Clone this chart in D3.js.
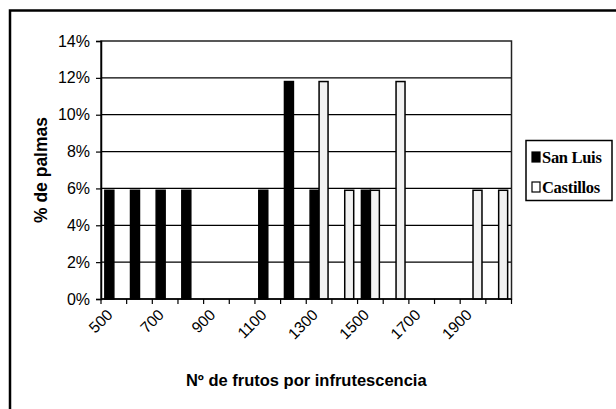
<!DOCTYPE html>
<html>
<head>
<meta charset="utf-8">
<script src="https://cdn.jsdelivr.net/npm/d3@7"></script>
<style>
  html, body { margin: 0; padding: 0; background: #fff; }
  svg { display: block; }
</style>
</head>
<body>
<svg id="chart" width="616" height="409"></svg>
<script>
// ---- data ----
const categories = ["500","600","700","800","900","1000","1100","1200","1300","1400","1500","1600","1700","1800","1900","2000"];
const tickLabels = ["500","700","900","1100","1300","1500","1700","1900"];
const seriesNames = ["San Luis", "Castillos"];
const sanLuis   = [5.9, 5.9, 5.9, 5.9, 0, 0, 5.9, 11.8, 5.9, 0, 5.9, 0, 0, 0, 0, 0];
const castillos = [0, 0, 0, 0, 0, 0, 0, 0, 11.8, 5.9, 5.9, 11.8, 0, 0, 5.9, 5.9];
const yTicks = [0, 2, 4, 6, 8, 10, 12, 14];
const yTitle = "% de palmas";
const xTitle = "Nº de frutos por infrutescencia";

// ---- layout ----
const svg = d3.select("#chart");
const pL = 101, pR = 511.5, pT = 41, pB = 299;
const sans = "'Liberation Sans', Arial, sans-serif";
const serif = "'Liberation Serif', 'Times New Roman', serif";

// outer frame (cut off at right/bottom like the scan)
svg.append("rect").attr("x", 10).attr("y", 10.5).attr("width", 640).attr("height", 430)
  .attr("fill", "none").attr("stroke", "#000").attr("stroke-width", 2.5);

const x = d3.scaleBand().domain(categories).range([pL, pR]).paddingInner(0).paddingOuter(0);
const x1 = d3.scaleBand().domain(seriesNames).range([0, x.bandwidth()]).paddingInner(0).paddingOuter(0.43);
const y = d3.scaleLinear().domain([0, 14]).range([pB, pT]);

// gridlines
svg.append("g").selectAll("line").data(yTicks.filter(d => d > 0 && d < 14)).join("line")
  .attr("x1", pL).attr("x2", pR)
  .attr("y1", d => y(d)).attr("y2", d => y(d))
  .attr("stroke", "#000").attr("stroke-width", 1.2);

// plot border
svg.append("rect").attr("x", pL).attr("y", pT).attr("width", pR - pL).attr("height", pB - pT)
  .attr("fill", "none").attr("stroke", "#222").attr("stroke-width", 1.5);

// bars
const rows = categories.map((c, i) => ({ cat: c, values: [sanLuis[i], castillos[i]] }));
const groups = svg.append("g").selectAll("g").data(rows).join("g")
  .attr("transform", d => `translate(${x(d.cat)},0)`);
groups.selectAll("rect").data(d => d.values.map((v, j) => ({ s: seriesNames[j], v })).filter(e => e.v > 0))
  .join("rect")
  .attr("x", d => x1(d.s)).attr("width", x1.bandwidth())
  .attr("y", d => y(d.v)).attr("height", d => y(0) - y(d.v))
  .attr("fill", d => d.s === "San Luis" ? "#000" : "#f2f2f2")
  .attr("stroke", "#000").attr("stroke-width", 1.5);

// y axis
const yAxis = d3.axisLeft(y).tickValues(yTicks).tickFormat(d => d + "%").tickSize(5).tickPadding(6);
const gy = svg.append("g").attr("transform", `translate(${pL},0)`).call(yAxis);
gy.select(".domain").attr("stroke", "#000").attr("stroke-width", 1.5);
gy.selectAll(".tick line").attr("stroke", "#000").attr("stroke-width", 1.2);
gy.selectAll("text").attr("font-family", sans).attr("font-size", 16).attr("fill", "#000");

// x axis: ticks at category boundaries
const bounds = categories.map(c => x(c)).concat([pR]);
const gx = svg.append("g");
gx.append("line").attr("x1", pL).attr("x2", pR).attr("y1", pB).attr("y2", pB)
  .attr("stroke", "#000").attr("stroke-width", 1.5);
gx.selectAll("line.t").data(bounds).join("line").attr("class", "t")
  .attr("x1", d => d).attr("x2", d => d).attr("y1", pB).attr("y2", pB + 5)
  .attr("stroke", "#000").attr("stroke-width", 1.2);
gx.selectAll("text").data(tickLabels).join("text")
  .attr("transform", d => `translate(${x(d) + x.bandwidth() / 2 - 8},${pB + 9}) rotate(-45)`)
  .attr("text-anchor", "end").attr("dy", "0.71em")
  .attr("font-family", sans).attr("font-size", 15.5).attr("fill", "#000")
  .text(d => d);

// axis titles
svg.append("text").attr("transform", `translate(47,${(pT + pB) / 2}) rotate(-90)`)
  .attr("text-anchor", "middle").attr("font-family", sans).attr("font-weight", "bold")
  .attr("font-size", 17.5).text(yTitle);
svg.append("text").attr("x", (pL + pR) / 2).attr("y", 386)
  .attr("text-anchor", "middle").attr("font-family", sans).attr("font-weight", "bold")
  .attr("font-size", 16.5).text(xTitle);

// legend
const lg = svg.append("g");
lg.append("rect").attr("x", 526).attr("y", 140.5).attr("width", 86).attr("height", 60)
  .attr("fill", "#fff").attr("stroke", "#000").attr("stroke-width", 1.5);
const items = lg.selectAll("g").data(seriesNames).join("g")
  .attr("transform", (d, i) => `translate(532,${157 + i * 30})`);
items.append("rect").attr("x", 0).attr("y", -5).attr("width", 8).attr("height", 10)
  .attr("fill", d => d === "San Luis" ? "#000" : "#fff").attr("stroke", "#000").attr("stroke-width", 1.2);
items.append("text").attr("x", 10).attr("y", 5.5)
  .attr("font-family", serif).attr("font-weight", "bold").attr("font-size", 16.5)
  .attr("letter-spacing", -0.3).text(d => d);
</script>
</body>
</html>
